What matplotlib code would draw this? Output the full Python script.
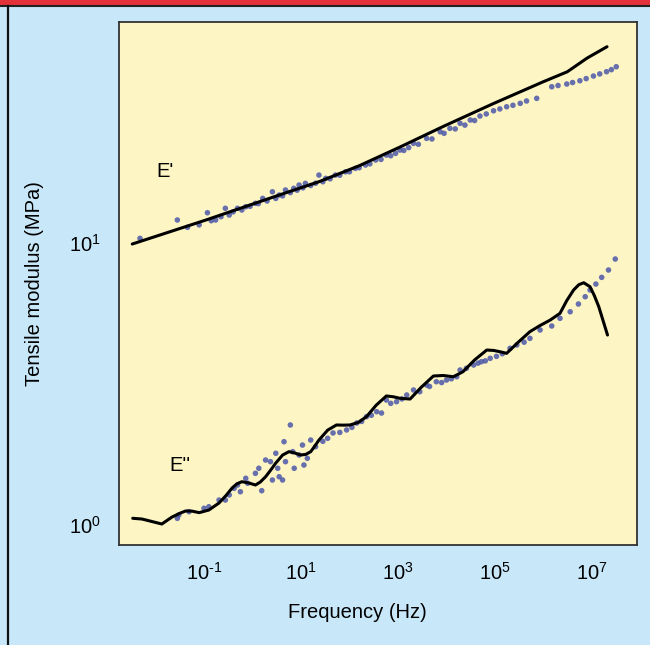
import numpy as np
import matplotlib
matplotlib.use("Agg")
import matplotlib.pyplot as plt
from matplotlib.lines import Line2D
from matplotlib.patches import Rectangle

plt.rcParams["font.family"] = ["Liberation Sans", "DejaVu Sans"]
plt.rcParams["mathtext.fontset"] = "custom"
plt.rcParams["mathtext.rm"] = "Liberation Sans"
plt.rcParams["mathtext.it"] = "Liberation Sans"

# E' (storage modulus) - model curve, log10 frequency / MPa
e1_line_logf = [-2.48, -0.96, 0.55, 1.37, 2.20, 3.04, 3.93, 4.96, 5.99, 6.49, 6.90, 7.31]
e1_line_val = [9.92, 12.07, 14.8, 16.5, 18.8, 21.9, 25.9, 31.2, 37.3, 40.5, 45.3, 49.7]

# E' measured points
e1_pts_logf = [-2.32, -1.55, -1.34, -0.93, -0.76, -0.56, -0.48, -0.31, -0.14, 0.06,
               0.21, 0.41, 0.55, 0.68, 0.85, 0.96, 1.09, 1.37, 1.51, 1.71,
               1.92, 2.12, 2.33, 2.54, 2.76, 3.04, 3.32, 3.59, 3.87, 4.07,
               4.28, 4.49, 4.69, 4.82, 4.97, 5.10, 5.24, 5.37, 5.52, 5.65,
               5.86, 6.17, 6.30, 6.48, 6.60, 6.75, 6.88, 7.03, 7.16, 7.30,
               7.40, 7.50,
               -1.10, -0.85, -0.65, -0.40, -0.22, -0.05, 0.12, 0.30, 0.48, 0.62,
               0.78, 0.92, 1.04, 1.20, 1.30, 1.45, 1.60, 1.80, 2.00, 2.20,
               2.42, 2.65, 2.85, 2.95, 3.12, 3.22, 3.42, 3.70, 3.95, 4.18,
               4.38, 4.58]
e1_pts_val = [10.39, 12.07, 11.37, 12.81, 12.07, 13.28, 12.57, 13.28, 13.45, 13.83,
              14.40, 15.20, 14.8, 15.42, 15.63, 16.06, 16.28, 17.42, 16.96, 17.42,
              17.89, 18.40, 18.91, 19.70, 20.51, 21.37, 22.57, 23.51, 24.81, 25.51,
              26.58, 27.31, 28.21, 28.7, 29.45, 29.9, 30.43, 30.8, 31.29, 31.9,
              32.60, 35.84, 36.2, 36.64, 37.1, 37.64, 38.3, 39.11, 39.8, 40.52,
              41.2, 42.2,
              11.6, 12.0, 12.4, 12.9, 13.1, 13.5, 13.8, 14.1, 14.4, 14.7,
              15.1, 15.4, 15.7, 16.0, 16.3, 16.5, 16.9, 17.4, 17.9, 18.5,
              19.1, 19.8, 20.4, 20.8, 21.3, 21.8, 22.4, 23.4, 24.5, 25.4,
              26.2, 27.2]

# E'' (loss modulus) - model curve
e2_line_logf = [-2.47, -2.28, -1.87, -1.66, -1.50, -1.38, -1.25, -1.10, -0.90, -0.69,
                -0.55, -0.42, -0.32, -0.22, -0.08, 0.06, 0.16, 0.27, 0.38, 0.48,
                0.62, 0.75, 0.87, 0.99, 1.10, 1.20, 1.28, 1.37, 1.55, 1.73,
                1.87, 2.01, 2.18, 2.35, 2.55, 2.76, 2.90, 3.04, 3.25, 3.48,
                3.73, 3.93, 4.14, 4.34, 4.58, 4.83, 4.97, 5.10, 5.24, 5.48,
                5.72, 5.93, 6.14, 6.34, 6.48, 6.62, 6.73, 6.83, 6.96, 7.05,
                7.14, 7.32]
e2_line_val = [1.056, 1.050, 1.008, 1.067, 1.100, 1.121, 1.120, 1.106, 1.130, 1.197,
               1.270, 1.353, 1.400, 1.424, 1.410, 1.386, 1.420, 1.483, 1.570, 1.659,
               1.770, 1.820, 1.800, 1.771, 1.780, 1.820, 1.900, 2.001, 2.170, 2.263,
               2.260, 2.263, 2.310, 2.422, 2.660, 2.868, 2.850, 2.814, 2.798, 3.080,
               3.376, 3.390, 3.356, 3.496, 3.850, 4.174, 4.160, 4.117, 4.063, 4.450,
               4.849, 5.100, 5.333, 5.632, 6.250, 6.813, 7.120, 7.231, 6.998, 6.500,
               5.944, 4.718]

# E'' measured points
e2_pts_logf = [-1.55, -1.52, -1.31, -1.00, -0.90, -0.69, -0.56, -0.48, -0.38, -0.31,
               -0.25, -0.14, -0.10, 0.06, 0.13, 0.19, 0.27, 0.37, 0.41, 0.48,
               0.52, 0.55, 0.62, 0.65, 0.68, 0.78, 0.83, 0.86, 0.96, 1.03,
               1.06, 1.13, 1.20, 1.30, 1.66, 1.94, 2.15, 2.35, 2.56, 2.66,
               2.76, 2.97, 3.18, 3.32, 3.45, 3.59, 3.79, 4.00, 4.21, 4.28,
               4.41, 4.56, 4.72, 4.90, 5.03, 5.31, 5.72, 5.93, 6.17, 6.34,
               6.55, 6.72, 6.86, 6.96, 7.08, 7.20, 7.34, 7.48,
               1.45, 1.55, 1.80, 2.05, 2.25, 2.45, 2.85, 3.08, 3.65, 3.90,
               4.10, 4.65, 4.80, 5.15, 5.45, 5.60]
e2_pts_val = [1.056, 1.085, 1.115, 1.146, 1.161, 1.226, 1.226, 1.278, 1.349, 1.386,
              1.312, 1.464, 1.406, 1.525, 1.589, 1.323, 1.700, 1.677, 1.444, 1.796,
              1.589, 1.483, 1.444, 1.974, 1.677, 2.263, 1.820, 1.589, 1.771, 1.921,
              1.632, 1.724, 2.001, 1.895, 2.120, 2.173, 2.300, 2.422, 2.522, 2.495,
              2.775, 2.737, 2.891, 3.011, 2.970, 3.136, 3.222, 3.267, 3.356, 3.545,
              3.595, 3.693, 3.794, 3.900, 3.963, 4.233, 4.592, 4.916, 5.079, 5.408,
              5.705, 6.077, 6.451, 6.813, 7.154, 7.556, 8.023, 8.777,
              1.98, 2.03, 2.13, 2.22, 2.33, 2.45, 2.70, 2.80, 3.10, 3.20,
              3.30, 3.75, 3.82, 4.05, 4.35, 4.45]

x_ticks_exp = [-1, 1, 3, 5, 7]
y_ticks_exp = [0, 1]

BG_BLUE = "#c8e8fa"
BG_YELLOW = "#fdf6c4"
DOT_COLOR = "#4d58a8"


def to_hz(exps):
    return np.power(10.0, np.asarray(exps))


def pow_label(e):
    # hyphen instead of math minus, like the original figure
    return "$10^{" + str(e).replace("-", "\u2010") + "}$"


fig = plt.figure(figsize=(6.5, 6.45), dpi=100, facecolor=BG_BLUE)
ax = fig.add_axes([119 / 650, 100 / 645, 518 / 650, 523 / 645])
ax.set_facecolor(BG_YELLOW)

# measured points
ax.scatter(to_hz(e1_pts_logf), e1_pts_val, s=16, color=DOT_COLOR, alpha=0.85,
           edgecolors="none", zorder=2)
ax.scatter(to_hz(e2_pts_logf), e2_pts_val, s=16, color=DOT_COLOR, alpha=0.85,
           edgecolors="none", zorder=2)

# model curves
ax.plot(to_hz(e1_line_logf), e1_line_val, color="black", lw=2.2,
        solid_joinstyle="round", solid_capstyle="round", zorder=3)
ax.plot(to_hz(e2_line_logf), e2_line_val, color="black", lw=2.2,
        solid_joinstyle="round", solid_capstyle="round", zorder=3)

ax.set_xscale("log")
ax.set_yscale("log")
ax.set_xlim(10 ** -2.753, 10 ** 7.928)
ax.set_ylim(10 ** -0.071, 10 ** 1.784)

ax.set_xticks(to_hz(x_ticks_exp))
ax.set_xticklabels([pow_label(e) for e in x_ticks_exp])
ax.set_yticks(to_hz(y_ticks_exp))
ax.set_yticklabels([pow_label(e) for e in y_ticks_exp])
ax.minorticks_off()
ax.tick_params(axis="both", length=0, labelsize=14.5)
ax.tick_params(axis="x", pad=12)
ax.tick_params(axis="y", pad=13)

for sp in ax.spines.values():
    sp.set_color("#333333")
    sp.set_linewidth(1.3)

ax.set_xlabel("Frequency (Hz)", fontsize=14.5)
ax.set_ylabel("Tensile modulus (MPa)", fontsize=14.5)
ax.xaxis.set_label_coords(0.46, -0.11)
ax.yaxis.set_label_coords(-0.145, 0.5)

ax.text(10 ** -1.80, 17.9, "E'", fontsize=14.5, ha="center", va="center")
ax.text(10 ** -1.49, 1.63, "E''", fontsize=14.5, ha="center", va="center")

# frame decorations of the figure panel
fig.patches.append(Rectangle((0, 1 - 5 / 645), 1, 5 / 645, transform=fig.transFigure,
                             facecolor="#e3323a", edgecolor="none", zorder=0))
fig.lines.append(Line2D([0, 1], [1 - 5.5 / 645] * 2, transform=fig.transFigure,
                        color="#222222", lw=1.5))
fig.lines.append(Line2D([8 / 650] * 2, [0, 1 - 5.5 / 645], transform=fig.transFigure,
                        color="#111111", lw=1.6))

fig.savefig("out.png", dpi=100, facecolor=BG_BLUE)
